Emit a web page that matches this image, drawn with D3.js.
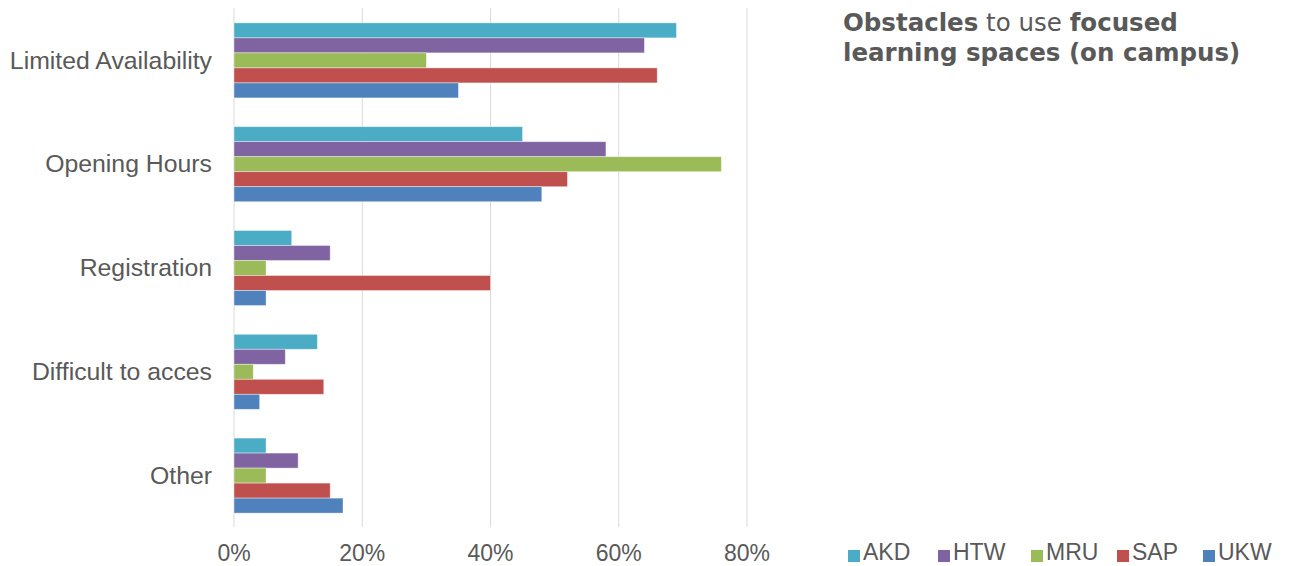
<html>
<head>
<script src="https://d3js.org/d3.v7.min.js"></script>
<style>
  body { margin: 0; background: #fff; }
  text { font-family: "Liberation Sans", Arial, sans-serif; fill: #595959; }
</style>
</head>
<body>
<div id="chart"></div>
<script>
// data
var categories = ["Limited Availability", "Opening Hours", "Registration", "Difficult to acces", "Other"];
var series = ["AKD", "HTW", "MRU", "SAP", "UKW"];
var akd = [69, 45, 9, 13, 5];
var htw = [64, 58, 15, 8, 10];
var mru = [30, 76, 5, 3, 5];
var sap = [66, 52, 40, 14, 15];
var ukw = [35, 48, 5, 4, 17];
var xTicks = [0, 20, 40, 60, 80];
var colors = ["#4BACC6", "#8064A2", "#9BBB59", "#C0504D", "#4F81BD"];

var values = [akd, htw, mru, sap, ukw];

var svg = d3.select("#chart").append("svg")
  .attr("width", 1293).attr("height", 566);

var x = d3.scaleLinear().domain([0, 80]).range([234, 747]);
var y = d3.scaleBand().domain(categories).range([8.5, 527.5])
  .paddingInner(0.277).paddingOuter(0.1385);
var ySub = d3.scaleBand().domain(series).range([0, y.bandwidth()]);

// gridlines
svg.append("g").selectAll("line")
  .data(xTicks).enter().append("line")
  .attr("x1", function(d){ return x(d); })
  .attr("x2", function(d){ return x(d); })
  .attr("y1", 8).attr("y2", 527)
  .attr("stroke", "#d9d9d9").attr("stroke-width", 1);

// bars
series.forEach(function(s, i){
  svg.append("g").selectAll("rect")
    .data(categories).enter().append("rect")
    .attr("x", x(0))
    .attr("y", function(c){ return y(c) + ySub(s); })
    .attr("width", function(c, j){ return x(values[i][j]) - x(0); })
    .attr("height", ySub.bandwidth())
    .attr("fill", colors[i])
    .attr("stroke", "#ffffff").attr("stroke-opacity", 0.5).attr("stroke-width", 0.8);
});

// category labels
svg.append("g").selectAll("text")
  .data(categories).enter().append("text")
  .attr("x", 212)
  .attr("y", function(c){ return y(c) + y.bandwidth() / 2; })
  .attr("dy", "0.33em")
  .attr("text-anchor", "end")
  .attr("font-size", "24.8px")
  .text(function(c){ return c; });

// x axis labels
svg.append("g").selectAll("text")
  .data(xTicks).enter().append("text")
  .attr("x", function(d){ return x(d); })
  .attr("y", 561)
  .attr("text-anchor", "middle")
  .attr("font-size", "23px")
  .text(function(d){ return d + "%"; });

// title
var title = svg.append("text")
  .attr("x", 843).attr("y", 31)
  .style("font-family", "'DejaVu Sans', Verdana, sans-serif")
  .attr("font-size", "24.5px");
title.append("tspan").attr("font-weight", "bold").text("Obstacles");
title.append("tspan").text(" to use ");
title.append("tspan").attr("font-weight", "bold").text("focused");
svg.append("text")
  .attr("x", 843).attr("y", 61)
  .style("font-family", "'DejaVu Sans', Verdana, sans-serif")
  .attr("font-size", "24.5px").attr("font-weight", "bold")
  .text("learning spaces (on campus)");

// legend
var legendX = [848, 938, 1031, 1117, 1203];
var lg = svg.append("g").selectAll("g")
  .data(series).enter().append("g")
  .attr("transform", function(d, i){ return "translate(" + legendX[i] + ",560)"; });
lg.append("rect")
  .attr("x", 0).attr("y", -10).attr("width", 12).attr("height", 12)
  .attr("fill", function(d, i){ return colors[i]; });
lg.append("text")
  .attr("x", 15).attr("y", 0)
  .attr("font-size", "23px")
  .text(function(d){ return d; });
</script>
</body>
</html>
